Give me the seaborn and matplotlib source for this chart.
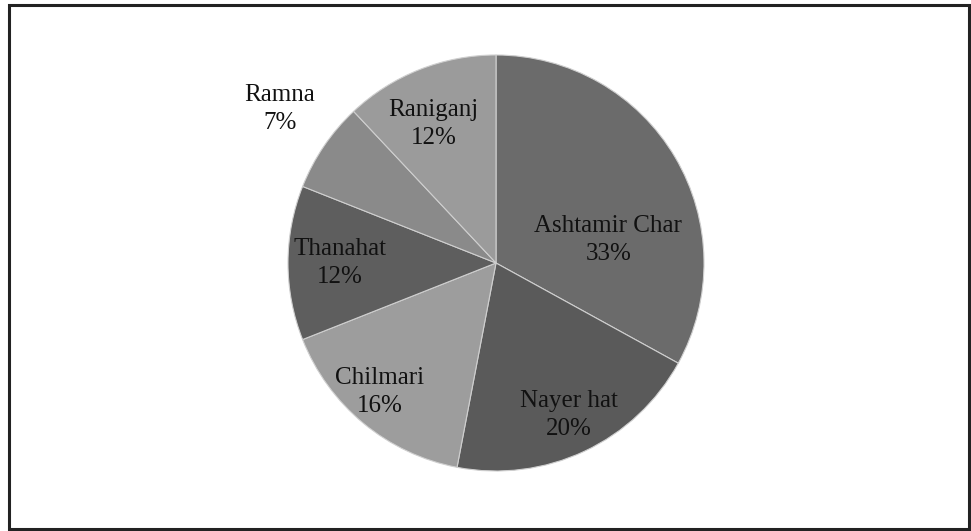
import matplotlib
matplotlib.use("Agg")
import matplotlib.pyplot as plt
import seaborn as sns
import numpy as np
from matplotlib.patches import Rectangle

# ---- data ----
categories = ["Ashtamir Char", "Nayer hat", "Chilmari", "Thanahat", "Ramna", "Raniganj"]
shares = [33, 20, 16, 12, 7, 12]
colors = ["#6b6b6b", "#5a5a5a", "#9d9d9d", "#5e5e5e", "#8a8a8a", "#9b9b9b"]

# label placement (in units of pie radius, relative to centre) - layout only
label_pos = [(0.54, 0.11), (0.35, -0.73), (-0.56, -0.62), (-0.75, 0.0), (-1.04, 0.74), (-0.30, 0.67)]

sns.set_theme(style="white")
plt.rcParams["font.family"] = ["Liberation Serif", "DejaVu Serif"]

W, H = 971, 531
fig = plt.figure(figsize=(W / 100, H / 100), dpi=100)
cx, cy, R = 496, 268, 208
ax = fig.add_axes([(cx - R) / W, (cy - R) / H, 2 * R / W, 2 * R / H])

wedges, _ = ax.pie(shares, colors=colors, startangle=90, counterclock=False,
                   radius=1.0, wedgeprops=dict(edgecolor="#cfcfcf", linewidth=0.8))
ax.set_xlim(-1, 1)
ax.set_ylim(-1, 1)
ax.set_aspect("equal")
ax.axis("off")

for name, val, (x, y) in zip(categories, shares, label_pos):
    ax.text(x, y, f"{name}\n{val}%", ha="center", va="center", fontsize=18,
            color="#111111", linespacing=1.35, clip_on=False)

fig.patches.append(Rectangle((9 / W, 2 / H), 960 / W, 524 / H, transform=fig.transFigure,
                             fill=False, edgecolor="#222222", linewidth=2.2))

fig.savefig("out.png", dpi=100, facecolor="white")
